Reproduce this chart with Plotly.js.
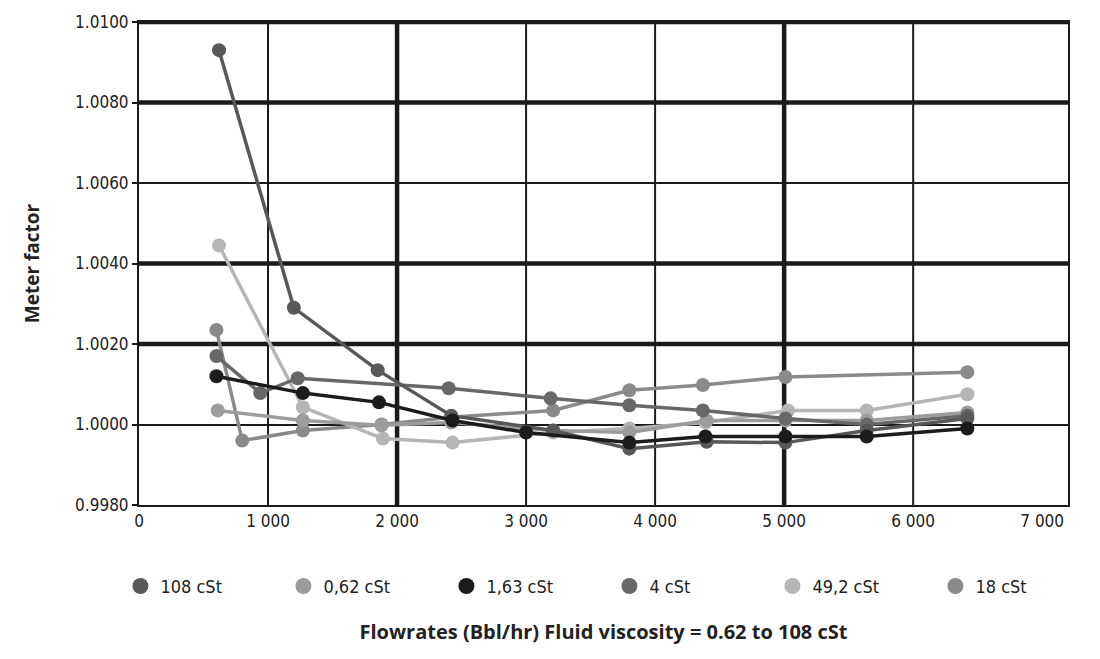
<!DOCTYPE html>
<html>
<head>
<meta charset="utf-8">
<script src="https://cdn.plot.ly/plotly-3.0.1.min.js"></script>
<style>html,body{margin:0;padding:0;background:#fff;}#chart{width:1100px;height:659px;}</style>
</head>
<body>
<div id="chart"></div>
<script>
// Series names
const seriesNames = ["108 cSt", "0,62 cSt", "1,63 cSt", "4 cSt", "49,2 cSt", "18 cSt"];
const seriesColors = ["#585858", "#9c9c9c", "#1c1c1c", "#686868", "#b5b5b5", "#8a8a8a"];

// Flowrates (Bbl/hr) and meter factors
const x108 = [620, 1200, 1850, 2420, 3210, 3800, 4400, 5010, 5640, 6420];
const y108 = [1.0093, 1.0029, 1.00135, 1.00022, 0.99985, 0.9994, 0.99957, 0.99955, 0.99985, 1.00015];

const x062 = [610, 1270, 1880, 2420, 3210, 3800, 4400, 5010, 5640, 6420];
const y062 = [1.00035, 1.0001, 0.99998, 1.00005, 0.99985, 0.9998, 1.0001, 1.0001, 1.0001, 1.0003];

const x163 = [600, 1270, 1860, 2430, 3000, 3800, 4390, 5010, 5640, 6420];
const y163 = [1.0012, 1.00078, 1.00055, 1.0001, 0.9998, 0.99955, 0.9997, 0.9997, 0.9997, 0.9999];

const x4 = [600, 940, 1230, 2400, 3190, 3800, 4370, 5010, 5640, 6420];
const y4 = [1.0017, 1.00078, 1.00115, 1.0009, 1.00065, 1.00048, 1.00035, 1.00015, 1.0, 1.00022];

const x492 = [620, 1270, 1890, 2430, 3210, 3800, 4390, 5030, 5640, 6420];
const y492 = [1.00445, 1.00043, 0.99965, 0.99955, 0.9998, 0.9999, 1.00005, 1.00035, 1.00035, 1.00075];

const x18 = [600, 800, 1270, 1880, 2420, 3210, 3800, 4370, 5010, 6420];
const y18 = [1.00235, 0.9996, 0.99985, 1.0, 1.00018, 1.00035, 1.00085, 1.00098, 1.00118, 1.0013];

// Axis ticks
const xTickVals = [0, 1000, 2000, 3000, 4000, 5000, 6000, 7000];
const xTickText = ["0", "1 000", "2 000", "3 000", "4 000", "5 000", "6 000", "7 000"];
const yTickVals = [0.998, 1.000, 1.002, 1.004, 1.006, 1.008, 1.010];
const yTickText = ["0.9980", "1.0000", "1.0020", "1.0040", "1.0060", "1.0080", "1.0100"];
const xThin = [1000, 3000, 4000, 6000];
const xThick = [2000, 5000];
const yThick = [1.002, 1.004, 1.008, 1.010];

const xs = [x108, x062, x163, x4, x492, x18];
const ys = [y108, y062, y163, y4, y492, y18];
const drawOrder = [5, 4, 1, 3, 0, 2];

const tickFamily = '"Liberation Sans Narrow", "DejaVu Sans Condensed", "Open Sans", sans-serif';
const titleFamily = '"Open Sans", "Noto Sans", sans-serif';
const traces = [];
drawOrder.forEach(i => {
  traces.push({
    x: xs[i], y: ys[i], type: 'scatter', mode: 'lines+markers',
    name: seriesNames[i], showlegend: false,
    line: {color: seriesColors[i], width: 3.5},
    marker: {color: seriesColors[i], size: 14, symbol: 'circle'},
    hoverinfo: 'x+y+name'
  });
});
seriesNames.forEach((n, i) => {
  traces.push({
    x: [null], y: [null], type: 'scatter', mode: 'markers', name: n,
    marker: {color: seriesColors[i], size: 17, symbol: 'circle'}
  });
});

const gridColor = '#1a1a1a';
const shapes = [];
xThin.forEach(v => shapes.push({type: 'line', xref: 'x', yref: 'paper', x0: v, x1: v, y0: 0, y1: 1, line: {color: gridColor, width: 2}, layer: 'below'}));
xThick.forEach(v => shapes.push({type: 'line', xref: 'x', yref: 'paper', x0: v, x1: v, y0: 0, y1: 1, line: {color: gridColor, width: 4.5}, layer: 'below'}));
yThick.forEach(v => shapes.push({type: 'line', xref: 'paper', yref: 'y', x0: 0, x1: 1, y0: v, y1: v, line: {color: gridColor, width: 4.5}, layer: 'below'}));

const layout = {
  width: 1100, height: 659,
  margin: {l: 139, r: 32, t: 22, b: 154},
  paper_bgcolor: '#ffffff', plot_bgcolor: '#ffffff',
  showlegend: true,
  legend: {orientation: 'h', x: -0.02, xanchor: 'left', y: -0.13, yanchor: 'top',
    font: {family: tickFamily, size: 18, color: '#222'},
    entrywidth: 118, entrywidthmode: 'pixels', itemsizing: 'trace', tracegroupgap: 0},
  xaxis: {
    range: [0, 7200], tickmode: 'array', tickvals: xTickVals, ticktext: xTickText,
    showgrid: false,
    showline: true, linecolor: gridColor, linewidth: 2, mirror: true,
    zeroline: false, ticks: '',
    tickfont: {family: tickFamily, size: 17, color: '#222'},
    title: {text: 'Flowrates (Bbl/hr) Fluid viscosity = 0.62 to 108 cSt',
      font: {family: titleFamily, size: 20, color: '#222', weight: 'bold'}, standoff: 95}
  },
  yaxis: {
    range: [0.998, 1.010], tickmode: 'array', tickvals: yTickVals, ticktext: yTickText,
    showgrid: true, gridcolor: gridColor, gridwidth: 2,
    showline: true, linecolor: gridColor, linewidth: 2, mirror: true,
    zeroline: false, ticks: 'outside', ticklen: 5, tickwidth: 2, tickcolor: gridColor,
    tickfont: {family: tickFamily, size: 17, color: '#222'},
    title: {text: 'Meter factor', font: {family: titleFamily, size: 19, color: '#222', weight: 'bold'}, standoff: 30}
  },
  shapes: shapes
};

Plotly.newPlot('chart', traces, layout, {displayModeBar: false, staticPlot: true});
</script>
</body>
</html>
